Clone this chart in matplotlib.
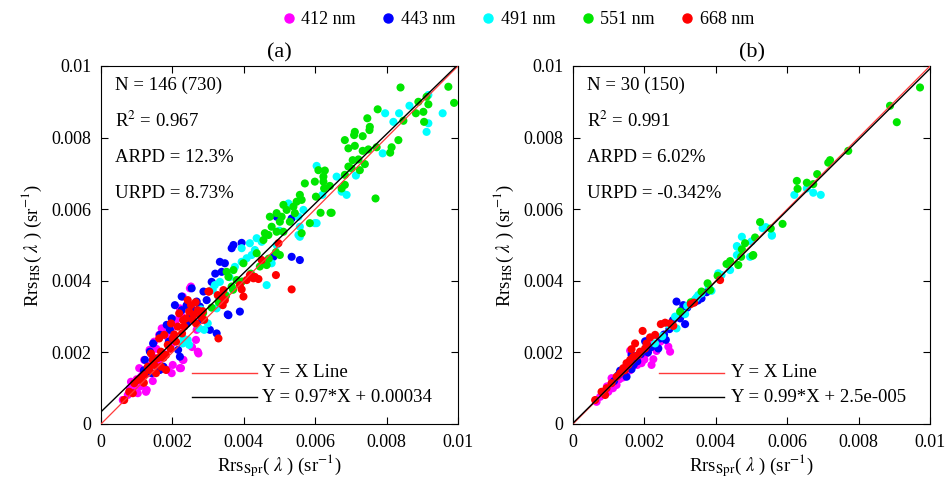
import matplotlib
matplotlib.use("Agg")
import matplotlib.pyplot as plt
from matplotlib.lines import Line2D

plt.rcParams['font.family'] = ['Liberation Serif', 'DejaVu Serif']
plt.rcParams['mathtext.fontset'] = 'stix'

bands = ['412 nm', '443 nm', '491 nm', '551 nm', '668 nm']
colors = ['#FF00FF', '#0000FF', '#00FFFF', '#00E600', '#FF0000']

# ---------------- panel (a) data: (Rrs_Spr, Rrs_HS) ----------------
a412 = [(0.00252,0.00384),(0.00229,0.00356),(0.00224,0.00304),(0.00173,0.00263),(0.00163,0.00249),
        (0.00266,0.00235),(0.00271,0.00202),(0.00229,0.00179),(0.00224,0.00156),(0.00201,0.00165),
        (0.00121,0.00179),(0.00107,0.00156),(0.00112,0.00132),(0.00093,0.00109),(0.00089,0.00095),
        (0.00126,0.00090),(0.00103,0.00086),(0.00075,0.00081),(0.00061,0.00067),(0.00149,0.00230),
        (0.00136,0.00207),(0.00196,0.00221),(0.00163,0.00151),(0.00187,0.00151),(0.00205,0.00272),
        (0.00145,0.00188),(0.00131,0.00142),(0.00084,0.00118),(0.00249,0.00379),(0.00221,0.00323),
        (0.00273,0.00309),(0.00268,0.00263),(0.00273,0.00197),(0.00231,0.00179),(0.00221,0.00156),
        (0.00198,0.00142),(0.00128,0.00095),(0.00090,0.00114),(0.00081,0.00100),(0.00062,0.00067),
        (0.00170,0.00267),(0.00140,0.00165),(0.00118,0.00148),(0.00155,0.00210),(0.00185,0.00245),
        (0.00210,0.00290),(0.00240,0.00330),(0.00100,0.00125),(0.00145,0.00120),(0.00178,0.00195),
        (0.00255,0.00215),(0.00110,0.00105),(0.00160,0.00175)]
a443 = [(0.00394,0.00506),(0.00371,0.00500),(0.00333,0.00453),(0.00347,0.00449),(0.00310,0.00397),
        (0.00287,0.00370),(0.00254,0.00379),(0.00226,0.00356),(0.00296,0.00346),(0.00268,0.00342),
        (0.00277,0.00328),(0.00259,0.00318),(0.00226,0.00318),(0.00198,0.00295),(0.00184,0.00277),
        (0.00193,0.00263),(0.00165,0.00249),(0.00146,0.00225),(0.00137,0.00202),(0.00123,0.00179),
        (0.00175,0.00160),(0.00165,0.00151),(0.00221,0.00188),(0.00216,0.00207),(0.00389,0.00314),
        (0.00355,0.00306),(0.00324,0.00253),(0.00305,0.00263),(0.00343,0.00351),(0.00534,0.00467),
        (0.00557,0.00458),(0.00483,0.00467),(0.00240,0.00332),(0.00207,0.00332),(0.00249,0.00300),
        (0.00282,0.00291),(0.00142,0.00142),(0.00366,0.00491),(0.00338,0.00425),(0.00492,0.00579),
        (0.00357,0.00304),(0.00534,0.00574),(0.00320,0.00420),(0.00120,0.00150),(0.00150,0.00180),
        (0.00190,0.00230),(0.00240,0.00280)]
a491 = [(0.00796,0.00868),(0.00864,0.00889),(0.00917,0.00919),(0.00957,0.00868),(0.00917,0.00840),
        (0.00912,0.00816),(0.00835,0.00868),(0.00819,0.00844),(0.00789,0.00756),(0.00604,0.00721),
        (0.00660,0.00691),(0.00714,0.00694),(0.00674,0.00649),(0.00688,0.00640),(0.00599,0.00561),
        (0.00525,0.00616),(0.00567,0.00598),(0.00557,0.00551),(0.00553,0.00528),(0.00553,0.00579),
        (0.00557,0.00523),(0.00604,0.00561),(0.00450,0.00509),(0.00436,0.00519),(0.00417,0.00505),
        (0.00394,0.00491),(0.00431,0.00486),(0.00422,0.00472),(0.00408,0.00463),(0.00394,0.00453),
        (0.00375,0.00439),(0.00333,0.00397),(0.00319,0.00388),(0.00310,0.00374),(0.00329,0.00356),
        (0.00464,0.00388),(0.00478,0.00449),(0.00492,0.00500),(0.00324,0.00323),(0.00313,0.00374),
        (0.00299,0.00281),(0.00289,0.00263),(0.00243,0.00235),(0.00247,0.00221),(0.00229,0.00225),
        (0.00275,0.00267),(0.00231,0.00239),(0.00350,0.00360),(0.00360,0.00410),(0.00280,0.00320),
        (0.00500,0.00540),(0.00620,0.00640)]
a551 = [(0.00839,0.00940),(0.00973,0.00942),(0.00989,0.00897),(0.00912,0.00914),(0.00889,0.00900),
        (0.00882,0.00868),(0.00903,0.00872),(0.00905,0.00844),(0.00917,0.00893),(0.00847,0.00847),
        (0.00775,0.00879),(0.00746,0.00854),(0.00753,0.00830),(0.00752,0.00821),(0.00733,0.00804),
        (0.00711,0.00816),(0.00709,0.00807),(0.00683,0.00793),(0.00693,0.00770),(0.00711,0.00777),
        (0.00733,0.00763),(0.00749,0.00767),(0.00772,0.00773),(0.00814,0.00773),(0.00810,0.00758),
        (0.00833,0.00793),(0.00705,0.00737),(0.00721,0.00739),(0.00702,0.00714),(0.00725,0.00709),
        (0.00739,0.00726),(0.00693,0.00719),(0.00683,0.00696),(0.00627,0.00708),(0.00609,0.00709),
        (0.00623,0.00691),(0.00599,0.00677),(0.00623,0.00677),(0.00625,0.00658),(0.00641,0.00665),
        (0.00571,0.00672),(0.00683,0.00668),(0.00674,0.00658),(0.00769,0.00630),(0.00602,0.00635),
        (0.00557,0.00640),(0.00562,0.00626),(0.00548,0.00621),(0.00539,0.00607),(0.00520,0.00598),
        (0.00543,0.00589),(0.00506,0.00579),(0.00529,0.00565),(0.00585,0.00561),(0.00615,0.00590),
        (0.00643,0.00590),(0.00511,0.00537),(0.00562,0.00533),(0.00511,0.00612),(0.00492,0.00589),
        (0.00473,0.00579),(0.00501,0.00565),(0.00478,0.00551),(0.00459,0.00533),(0.00469,0.00528),
        (0.00455,0.00514),(0.00492,0.00537),(0.00646,0.00590),(0.00501,0.00472),(0.00464,0.00444),
        (0.00436,0.00477),(0.00399,0.00449),(0.00371,0.00430),(0.00352,0.00425),(0.00357,0.00411),
        (0.00380,0.00402),(0.00366,0.00384),(0.00333,0.00346),(0.00286,0.00310),(0.00310,0.00325),
        (0.00330,0.00340),(0.00350,0.00358),(0.00370,0.00375),(0.00395,0.00398),(0.00420,0.00420),
        (0.00445,0.00440),(0.00470,0.00462),(0.00490,0.00480)]
a668 = [(0.00497,0.00505),(0.00450,0.00458),(0.00417,0.00416),(0.00431,0.00411),(0.00441,0.00405),
        (0.00490,0.00416),(0.00534,0.00376),(0.00408,0.00402),(0.00389,0.00388),(0.00394,0.00376),
        (0.00343,0.00374),(0.00338,0.00356),(0.00347,0.00346),(0.00301,0.00370),(0.00399,0.00356),
        (0.00427,0.00407),(0.00329,0.00239),(0.00303,0.00370),(0.00271,0.00318),(0.00247,0.00314),
        (0.00238,0.00295),(0.00280,0.00300),(0.00289,0.00291),(0.00257,0.00291),(0.00266,0.00281),
        (0.00233,0.00272),(0.00215,0.00272),(0.00227,0.00253),(0.00201,0.00239),(0.00210,0.00230),
        (0.00187,0.00221),(0.00168,0.00202),(0.00182,0.00193),(0.00159,0.00184),(0.00145,0.00179),
        (0.00149,0.00165),(0.00131,0.00160),(0.00135,0.00151),(0.00121,0.00137),(0.00112,0.00128),
        (0.00103,0.00123),(0.00093,0.00114),(0.00079,0.00090),(0.00089,0.00086),(0.00065,0.00067),
        (0.00327,0.00360),(0.00341,0.00332),(0.00196,0.00281),(0.00163,0.00239),(0.00177,0.00249),
        (0.00140,0.00197),(0.00168,0.00160),(0.00182,0.00151),(0.00154,0.00142),(0.00243,0.00346),
        (0.00252,0.00332),(0.00219,0.00309),(0.00260,0.00305),(0.00195,0.00210),(0.00175,0.00185),
        (0.00205,0.00250),(0.00120,0.00115),(0.00230,0.00290),(0.00265,0.00340),(0.00285,0.00315)]

# ---------------- panel (b) data ----------------
b412 = [(0.00160,0.00205),(0.00211,0.00235),(0.00220,0.00223),(0.00234,0.00204),(0.00225,0.00181),
        (0.00220,0.00165),(0.00192,0.00170),(0.00188,0.00186),(0.00267,0.00216),(0.00272,0.00202),
        (0.00150,0.00156),(0.00118,0.00123),(0.00108,0.00128),(0.00122,0.00109),(0.00099,0.00090),
        (0.00066,0.00062),(0.00076,0.00076),(0.00141,0.00137),(0.00174,0.00174),(0.00206,0.00197),
        (0.00130,0.00125),(0.00160,0.00150),(0.00085,0.00085),(0.00112,0.00100),(0.00200,0.00180),
        (0.00245,0.00230),(0.00180,0.00165),(0.00140,0.00130),(0.00095,0.00105),(0.00230,0.00215)]
b443 = [(0.00374,0.00368),(0.00360,0.00351),(0.00309,0.00332),(0.00290,0.00342),(0.00314,0.00279),
        (0.00304,0.00318),(0.00300,0.00295),(0.00132,0.00149),(0.00164,0.00153),(0.00164,0.00193),
        (0.00202,0.00231),(0.00244,0.00239),(0.00239,0.00211),(0.00127,0.00137),(0.00150,0.00132),
        (0.00140,0.00145),(0.00155,0.00160),(0.00180,0.00175),(0.00220,0.00215),(0.00255,0.00250),
        (0.00270,0.00265),(0.00320,0.00325),(0.00340,0.00340),(0.00115,0.00120),(0.00190,0.00195),
        (0.00280,0.00290),(0.00210,0.00200),(0.00170,0.00165),(0.00350,0.00345),(0.00260,0.00235)]
b491 = [(0.00655,0.00658),(0.00673,0.00646),(0.00694,0.00640),(0.00531,0.00547),(0.00557,0.00528),
        (0.00473,0.00523),(0.00460,0.00495),(0.00496,0.00467),(0.00459,0.00472),(0.00416,0.00416),
        (0.00388,0.00372),(0.00360,0.00365),(0.00346,0.00353),(0.00540,0.00550),(0.00459,0.00497),
        (0.00557,0.00526),(0.00407,0.00421),(0.00351,0.00360),(0.00342,0.00348),(0.00286,0.00300),
        (0.00314,0.00307),(0.00290,0.00267),(0.00230,0.00225),(0.00320,0.00330),(0.00250,0.00245),
        (0.00380,0.00385),(0.00440,0.00430),(0.00620,0.00640),(0.00500,0.00510),(0.00270,0.00275)]
b551 = [(0.00972,0.00940),(0.00888,0.00889),(0.00907,0.00843),(0.00771,0.00763),(0.00720,0.00737),
        (0.00715,0.00730),(0.00684,0.00698),(0.00627,0.00679),(0.00629,0.00657),(0.00655,0.00674),
        (0.00673,0.00670),(0.00587,0.00559),(0.00524,0.00564),(0.00554,0.00546),(0.00510,0.00521),
        (0.00482,0.00505),(0.00473,0.00488),(0.00471,0.00467),(0.00503,0.00470),(0.00440,0.00455),
        (0.00430,0.00447),(0.00463,0.00444),(0.00405,0.00414),(0.00377,0.00393),(0.00384,0.00374),
        (0.00300,0.00314),(0.00440,0.00451),(0.00505,0.00472),(0.00360,0.00370),(0.00330,0.00340)]
b668 = [(0.00339,0.00339),(0.00412,0.00402),(0.00330,0.00335),(0.00246,0.00279),(0.00258,0.00283),
        (0.00272,0.00281),(0.00281,0.00274),(0.00195,0.00260),(0.00174,0.00225),(0.00164,0.00209),
        (0.00206,0.00225),(0.00216,0.00242),(0.00230,0.00249),(0.00202,0.00211),(0.00188,0.00202),
        (0.00183,0.00193),(0.00169,0.00188),(0.00160,0.00179),(0.00150,0.00170),(0.00141,0.00156),
        (0.00132,0.00142),(0.00122,0.00132),(0.00108,0.00114),(0.00094,0.00100),(0.00080,0.00090),
        (0.00090,0.00081),(0.00062,0.00067),(0.00155,0.00165),(0.00178,0.00190),(0.00145,0.00150)]

panel_a = [a412, a443, a491, a551, a668]
panel_b = [b412, b443, b491, b551, b668]

stats_a = ['N = 146 (730)', r'R$^2$ = 0.967', 'ARPD = 12.3%', 'URPD = 8.73%']
stats_b = ['N = 30 (150)', r'R$^2$ = 0.991', 'ARPD = 6.02%', 'URPD = -0.342%']
fit_a = (0.97, 0.00034)
fit_b = (0.99, 2.5e-5)
fit_label_a = 'Y = 0.97*X + 0.00034'
fit_label_b = 'Y = 0.99*X + 2.5e-005'
titles = ['(a)', '(b)']

ticks = [0, 0.002, 0.004, 0.006, 0.008, 0.01]
tick_labels = ['0', '0.002', '0.004', '0.006', '0.008', '0.01']

W, H = 947, 483
fig = plt.figure(figsize=(W/100, H/100), dpi=100)
ax_a = fig.add_axes([101/W, 1-424/H, 357/W, 358/H])
ax_b = fig.add_axes([573/W, 1-424/H, 357/W, 358/H])

FS = 13.5
for ax, data, stats, fit, flabel, title, lx in [
        (ax_a, panel_a, stats_a, fit_a, fit_label_a, titles[0], (0.255, 0.437, 0.452)),
        (ax_b, panel_b, stats_b, fit_b, fit_label_b, titles[1], (0.241, 0.423, 0.443))]:
    for pts, c in zip(data, colors):
        xs = [p[0] for p in pts]
        ys = [p[1] for p in pts]
        ax.scatter(xs, ys, s=34, color=c, edgecolors='none', zorder=3)
    xl = [0, 0.01]
    ax.plot(xl, xl, color='#FF3A3A', lw=0.9, zorder=4)
    ax.plot(xl, [fit[0]*v + fit[1] for v in xl], color='black', lw=1.0, zorder=4)
    ax.set_xlim(0, 0.01)
    ax.set_ylim(0, 0.01)
    ax.set_xticks(ticks)
    ax.set_xticklabels(tick_labels)
    ax.set_yticks(ticks)
    ax.set_yticklabels(tick_labels)
    ax.tick_params(direction='in', top=True, right=True, labelsize=13, length=5, pad=7, width=0.8)
    for sp in ax.spines.values():
        sp.set_linewidth(0.8)
    ax.set_xlabel(r'Rrs$_{\rm Spr}$( $\lambda$ ) (sr$^{-1}$)', fontsize=FS, labelpad=1)
    ax.set_ylabel(r'Rrs$_{\rm HS}$( $\lambda$ ) (sr$^{-1}$)', fontsize=FS, labelpad=5)
    ax.set_title(title, fontsize=16, pad=6)
    for i, s in enumerate(stats):
        ax.text(0.00039, 0.00947 - i*0.00101, s, fontsize=FS, ha='left', va='center', zorder=5)
    # inner legend
    ax.plot([lx[0], lx[1]], [0.1425, 0.1425], transform=ax.transAxes, color='#FF3A3A', lw=1.0, zorder=5)
    ax.plot([lx[0], lx[1]], [0.0754, 0.0754], transform=ax.transAxes, color='black', lw=1.0, zorder=5)
    ax.text(lx[2], 0.1425, 'Y = X Line', transform=ax.transAxes, fontsize=FS, ha='left', va='center', zorder=5)
    ax.text(lx[2], 0.0754, flabel, transform=ax.transAxes, fontsize=FS, ha='left', va='center', zorder=5)

handles = [Line2D([], [], marker='o', ls='none', color=c, markersize=6.5) for c in colors]
fig.legend(handles, bands, loc='upper center', bbox_to_anchor=(0.545, 1.01), ncol=5,
           frameon=False, fontsize=13, handletextpad=0.1, columnspacing=1.2, handlelength=1.2)

fig.savefig('out.png', dpi=100)
